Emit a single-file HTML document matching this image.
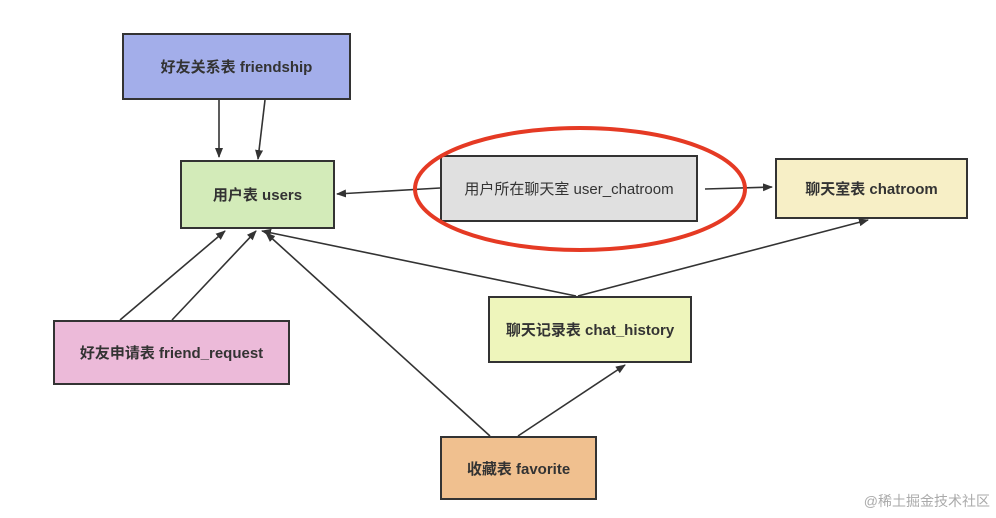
<!DOCTYPE html>
<html><head><meta charset="utf-8"><style>
body{margin:0;width:996px;height:518px;background:#fff;overflow:hidden;position:relative;font-family:"Liberation Sans","Noto Sans CJK SC",sans-serif}
.b{position:absolute;box-sizing:border-box;border:2px solid #333;display:flex;align-items:center;justify-content:center;font-size:15px;font-weight:bold;color:#333}
svg{position:absolute;left:0;top:0}
</style></head><body>
<div class="b" style="left:122px;top:33px;width:229px;height:67px;background:#a3aeea">好友关系表 friendship</div>
<div class="b" style="left:180px;top:160px;width:155px;height:69px;background:#d3ebb9">用户表 users</div>
<div class="b" style="left:440px;top:155px;width:258px;height:67px;background:#e0e0e0;font-weight:normal">用户所在聊天室 user_chatroom</div>
<div class="b" style="left:775px;top:158px;width:193px;height:61px;background:#f7efc6">聊天室表 chatroom</div>
<div class="b" style="left:53px;top:320px;width:237px;height:65px;background:#ecbad9">好友申请表 friend_request</div>
<div class="b" style="left:488px;top:296px;width:204px;height:67px;background:#eef5bb">聊天记录表 chat_history</div>
<div class="b" style="left:440px;top:436px;width:157px;height:64px;background:#f0c08f">收藏表 favorite</div>
<svg width="996" height="518">
<defs><marker id="a" markerWidth="10" markerHeight="8" refX="9" refY="4" orient="auto" markerUnits="userSpaceOnUse"><path d="M0,0L10,4L0,8z" fill="#333"/></marker></defs>
<g stroke="#333" stroke-width="1.6" fill="none" marker-end="url(#a)">
<line x1="219" y1="100" x2="219" y2="157"/>
<line x1="265" y1="100" x2="258" y2="159"/>
<line x1="440" y1="188" x2="337" y2="194"/>
<line x1="120" y1="320" x2="225" y2="231"/>
<line x1="172" y1="320" x2="256" y2="231"/>
<line x1="576" y1="296" x2="262" y2="231"/>
<line x1="490" y1="436" x2="266" y2="233"/>
<line x1="705" y1="189" x2="772" y2="187"/>
<line x1="578" y1="296" x2="868" y2="220"/>
<line x1="518" y1="436" x2="625" y2="365"/>
</g>
<ellipse cx="580" cy="189" rx="165" ry="61" stroke="#e53a24" stroke-width="4" fill="none"/>
<text x="990" y="506" text-anchor="end" font-size="14" fill="#aaa" font-family="Liberation Sans,Noto Sans CJK SC,sans-serif">@稀土掘金技术社区</text>
</svg>
</body></html>
